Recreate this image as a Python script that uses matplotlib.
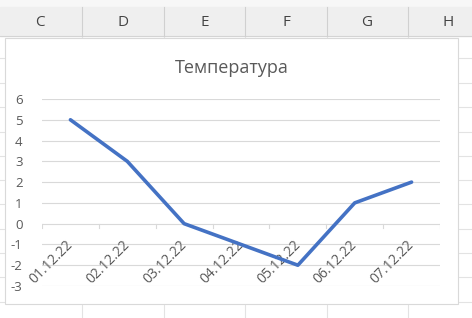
import matplotlib
matplotlib.use("Agg")
import matplotlib.pyplot as plt
from matplotlib.patches import Rectangle
from matplotlib.lines import Line2D

# ---- data ----
dates = ["01.12.22", "02.12.22", "03.12.22", "04.12.22", "05.12.22", "06.12.22", "07.12.22"]
temps = [5, 3, 0, -1, -2, 1, 2]
title = "Температура"
col_letters = ["C", "D", "E", "F", "G", "H"]
y_ticks = list(range(-3, 7))

W, H = 472, 318
plt.rcParams['font.family'] = ['Open Sans', 'DejaVu Sans']
fig = plt.figure(figsize=(W / 100, H / 100), dpi=100)
fig.patch.set_facecolor("white")

# ---- spreadsheet background (pixel coords) ----
bg = fig.add_axes([0, 0, 1, 1])
bg.set_xlim(0, W)
bg.set_ylim(H, 0)
bg.axis("off")
grid_c = "#e3e3e3"
col_edges = [82, 164, 245, 327, 408]
row_edges = [58, 83, 107, 132, 156, 180, 204, 229, 253, 277, 302]
for x in col_edges:
    bg.add_line(Line2D([x, x], [36, H], color=grid_c, lw=0.8))
for y in row_edges:
    bg.add_line(Line2D([0, W], [y, y], color=grid_c, lw=0.8))
# header
bg.add_patch(Rectangle((0, 0), W, 7, color="#f7f7f7", zorder=2))
bg.add_patch(Rectangle((0, 7), W, 29, color="#efefef", zorder=2))
bg.add_line(Line2D([0, W], [36, 36], color="#d4d4d4", lw=0.8, zorder=3))
for x in col_edges:
    bg.add_line(Line2D([x, x], [7, 36], color="#d0d0d0", lw=0.8, zorder=3))
col_centers = [40, 123, 205, 286, 367, 448]
for cx, letter in zip(col_centers, col_letters):
    bg.text(cx, 22, letter, ha="center", va="center", fontsize=11, color="#444444", zorder=4)
# chart area
bg.add_patch(Rectangle((5, 38), 453, 266, facecolor="white", edgecolor="#d9d9d9", lw=0.8, zorder=5))
bg.text(231.5, 68, title, ha="center", va="center", fontsize=13, color="#595959", zorder=6)

# ---- chart ----
left, right = 42 / W, 440 / W
bottom, top = 1 - 286 / H, 1 - 99 / H
ax = fig.add_axes([left, bottom, right - left, top - bottom], zorder=10)
ax.patch.set_alpha(0)
x = list(range(len(dates)))
ax.set_xlim(-0.5, len(dates) - 0.5)
ax.set_ylim(-3, 6)
ax.set_yticks(y_ticks)
ax.set_yticklabels([str(v) for v in y_ticks])
for v in y_ticks:
    ax.axhline(v, color="#d9d9d9", lw=0.8, zorder=1)
for s in ax.spines.values():
    s.set_visible(False)
ax.tick_params(axis="y", length=0, pad=14, labelsize=9.5, labelcolor="#595959")
ax.set_xticks([])
# category tick marks on zero line
for b in [i - 0.5 for i in range(len(dates) + 1)]:
    ax.plot([b, b], [0, -0.2], color="#d9d9d9", lw=0.8, zorder=1)
ax.plot(x, temps, color="#4472C4", lw=2.6, solid_capstyle="round", solid_joinstyle="round", zorder=3)
for i, d in enumerate(dates):
    ax.annotate(d, xy=(i, 0), xytext=(4, -10), textcoords="offset points",
                ha="right", va="top", rotation=45, fontsize=10, color="#595959", zorder=2)

fig.savefig("out.png", dpi=100)
